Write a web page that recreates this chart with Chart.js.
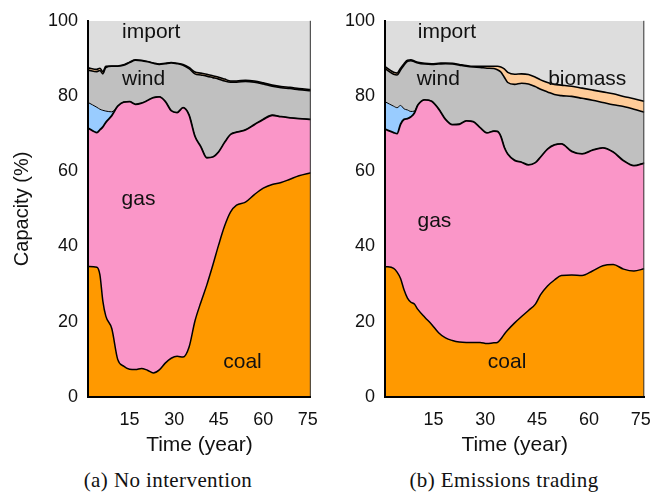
<!DOCTYPE html>
<html>
<head>
<meta charset="utf-8">
<script src="https://cdn.jsdelivr.net/npm/chart.js@4/dist/chart.umd.min.js"></script>
<style>
  body { margin: 0; background: #fff; }
  #wrap { position: relative; width: 663px; height: 495px; overflow: hidden; }
  canvas { position: absolute; top: 0; }
  .cap { position: absolute; top: 468px; font-family: "Liberation Serif", serif; font-size: 21px; letter-spacing: 0.4px; color: #111; white-space: nowrap; transform: translateX(-50%); }
</style>
</head>
<body>
<div id="wrap">
  <canvas id="chartA" width="330" height="460" style="left:0px"></canvas>
  <canvas id="chartB" width="333" height="460" style="left:330px"></canvas>
  <div class="cap" style="left:168px">(a) No intervention</div>
  <div class="cap" style="left:504px">(b) Emissions trading</div>
</div>
<script>
// DATOS: upper edge of each band, cumulative capacity (%)
const xTicks = [15, 30, 45, 60, 75]
const yTicks = [0, 20, 40, 60, 80, 100]

// (a) no intervention
const yearsA = [1, 4, 5, 6, 7, 9, 11, 13, 15, 17, 19, 21, 23, 25, 27, 29, 31, 33, 35, 37, 39, 41, 43, 45, 47, 49, 51, 54, 57, 60, 63, 66, 69, 72, 76]
const coalA = [34.7, 34.5, 32.5, 25.5, 21.5, 18.2, 10, 8.2, 7.4, 7.3, 7.6, 7.1, 6.4, 7.2, 9, 10.3, 10.8, 10.6, 13.2, 20.2, 25.2, 29.8, 35, 40.5, 45.5, 49.2, 51, 51.8, 53.8, 55.5, 56.5, 57, 57.9, 58.8, 59.6]
const gasA = [71.5, 70.3, 71, 71.8, 73, 74.8, 77.3, 78.4, 78.5, 77.8, 78.1, 78.8, 79.6, 79.8, 78.6, 76.1, 75.6, 76.9, 75, 69.3, 66.5, 63.6, 63.8, 65.2, 67.7, 69.8, 70.4, 71, 72.4, 73.8, 74.9, 74.5, 74.2, 74, 73.8]
const otherA = [78.3, 77, 76.5, 76.2, 76, 75.8, 77.3, 78.4, 78.5, 77.8, 78.1, 78.8, 79.6, 79.8, 78.6, 76.1, 75.6, 76.9, 75, 69.3, 66.5, 63.6, 63.8, 65.2, 67.7, 69.8, 70.4, 71, 72.4, 73.8, 74.9, 74.5, 74.2, 74, 73.8]
const windA = [86.9, 86.5, 86.8, 85.9, 87.6, 87.9, 87.9, 88.2, 88.9, 89.5, 89.4, 89.1, 88.7, 88.4, 88.6, 88.8, 88.6, 88.2, 87.3, 85.9, 85.6, 85.3, 84.9, 84.5, 84, 83.7, 83.7, 83.9, 83.7, 83.2, 82.6, 82.2, 82, 81.7, 81.4]
const biomassA = [87.5, 87.1, 87.4, 86.5, 87.9, 88, 88, 88.3, 89, 89.6, 89.5, 89.2, 88.8, 88.5, 88.7, 88.9, 88.7, 88.4, 87.6, 86.4, 86.1, 85.8, 85.4, 85, 84.5, 84, 84, 84.2, 84, 83.5, 82.9, 82.5, 82.3, 82, 81.7]

// (b) emissions trading
const yearsB = [1, 3.5, 4.5, 5.5, 6.5, 7.5, 8.5, 9.5, 10.5, 12.5, 14.5, 16.5, 18.5, 20.5, 22.5, 24.5, 26.5, 28.5, 30.5, 32.5, 33.5, 34.5, 35.5, 36.5, 38.5, 40.5, 42.5, 44.5, 46, 48, 50, 52, 55, 58, 61, 64, 67, 70, 73, 76]
const coalB = [34.7, 34.2, 33.2, 31.5, 28.5, 26.3, 25.2, 24.7, 23.3, 21.2, 19.3, 17.1, 15.7, 15, 14.6, 14.5, 14.5, 14.5, 14.2, 14.4, 14.5, 15.4, 16.7, 17.8, 19.7, 21.4, 23, 24.7, 27.2, 29.5, 31.1, 32.3, 32.4, 32.3, 33.5, 34.9, 35.2, 34, 33.5, 34.1]
const gasB = [71.2, 70.3, 70, 72.5, 73.8, 74, 74.5, 75.5, 77.6, 79, 78.6, 76.6, 73.8, 72.4, 72.5, 73.4, 73.2, 71.6, 70.2, 70.7, 70.6, 69.3, 66.4, 64.6, 62.9, 62.4, 61.7, 62.3, 63.8, 65.9, 67, 67.3, 65.3, 64.6, 65.6, 66.2, 65.1, 62.8, 61.5, 62.2]
const otherB = [78.5, 77.3, 76.9, 77.5, 76.6, 76.3, 75.9, 76, 77.6, 79, 78.6, 76.6, 73.8, 72.4, 72.5, 73.4, 73.2, 71.6, 70.2, 70.7, 70.6, 69.3, 66.4, 64.6, 62.9, 62.4, 61.7, 62.3, 63.8, 65.9, 67, 67.3, 65.3, 64.6, 65.6, 66.2, 65.1, 62.8, 61.5, 62.2]
const windB = [87.3, 85.8, 85.6, 86.9, 88.2, 89.2, 89.4, 89.1, 88.8, 88.5, 88.4, 88.5, 88.6, 88.5, 88.2, 87.9, 87.7, 87.6, 87.4, 87.3, 87, 86.4, 85, 83.6, 83.1, 83.4, 83.2, 82.5, 81.8, 81.1, 80.4, 80.1, 79.9, 79.4, 78.9, 78.3, 77.7, 77.2, 76.5, 75.7]
const biomassB = [87.8, 86.3, 86.1, 87.4, 88.6, 89.5, 89.6, 89.3, 89, 88.7, 88.6, 88.7, 88.8, 88.7, 88.4, 88.1, 87.9, 87.9, 87.9, 87.9, 87.9, 87.7, 87.2, 86.3, 85.8, 85.9, 85.7, 85, 84.3, 83.6, 83.1, 82.9, 82.6, 82.1, 81.6, 81.1, 80.6, 79.9, 79.3, 78.6]

const FONT = '"Liberation Sans", Arial, sans-serif'
const COLORS = { coal: '#FF9900', gas: '#FA96C8', other: '#99CCFF', wind: '#C0C0C0', biomass: '#FFCC99', import: '#DDDDDD' }

// FUNCIONES
function band(label, years, tops, color, fill, lineW) {
    return {
        label: label,
        data: years.map((x, i) => ({ x: x, y: tops[i] })),
        backgroundColor: color,
        borderColor: '#000',
        borderWidth: lineW,
        borderJoinStyle: 'round',
        pointRadius: 0,
        cubicInterpolationMode: 'monotone',
        fill: fill,
    }
}

// text inside the bands + thin right frame
const bandLabels = {
    id: 'bandLabels',
    afterDatasetsDraw(chart, args, opts) {
        const { ctx, chartArea, scales } = chart
        ctx.save()
        ctx.strokeStyle = '#333'
        ctx.lineWidth = 1
        ctx.beginPath()
        ctx.moveTo(chartArea.right - 0.5, chartArea.top)
        ctx.lineTo(chartArea.right - 0.5, chartArea.bottom)
        ctx.stroke()
        ctx.font = '21px ' + FONT
        ctx.fillStyle = '#111'
        ctx.textAlign = 'center'
        ctx.textBaseline = 'middle'
        opts.items.forEach(n => {
            ctx.fillText(n.text, scales.x.getPixelForValue(n.x), scales.y.getPixelForValue(n.y))
        })
        ctx.restore()
    }
}

function graficar(idCanvas, years, coal, gas, other, wind, biomass, yTitle, yWidth, padRight, notes) {
    const ctx = document.getElementById(idCanvas).getContext('2d')
    new Chart(ctx, {
        type: 'line',
        data: {
            datasets: [
                band('coal', years, coal, COLORS.coal, 'origin', 1.5),
                band('gas', years, gas, COLORS.gas, '-1', 1.8),
                band('other', years, other, COLORS.other, '-1', 1),
                band('wind', years, wind, COLORS.wind, '-1', 1.6),
                band('biomass', years, biomass, COLORS.biomass, '-1', 1.6),
                band('import', years, biomass, COLORS.import, 'end', 0),
            ],
        },
        options: {
            responsive: false,
            devicePixelRatio: 1,
            animation: false,
            layout: { padding: { top: 15, right: padRight, left: 0, bottom: 0 } },
            scales: {
                x: {
                    type: 'linear',
                    min: 1,
                    max: 76,
                    afterBuildTicks: s => { s.ticks = xTicks.map(v => ({ value: v })) },
                    afterFit: s => { s.height = 63 },
                    grid: { display: false, drawTicks: false },
                    border: { display: true, color: '#000', width: 2, z: 1 },
                    ticks: { color: '#111', font: { size: 18, family: FONT }, padding: 12, maxRotation: 0, autoSkip: false },
                    title: { display: true, text: 'Time (year)', color: '#111', font: { size: 21, family: FONT }, padding: { top: 0, bottom: 2 } },
                },
                y: {
                    min: 0,
                    max: 100,
                    afterBuildTicks: s => { s.ticks = yTicks.map(v => ({ value: v })) },
                    afterFit: s => { s.width = yWidth },
                    grid: { display: false, drawTicks: false },
                    border: { display: true, color: '#000', width: 2, z: 1 },
                    ticks: { color: '#111', font: { size: 18, family: FONT }, padding: 10 },
                    title: { display: !!yTitle, text: yTitle || '', color: '#111', font: { size: 20, family: FONT }, padding: { top: 10, bottom: 0 } },
                },
            },
            plugins: {
                legend: { display: false },
                tooltip: { enabled: false },
                bandLabels: { items: notes },
            },
        },
        plugins: [bandLabels],
    })
}

// EJECUCIÓN
graficar('chartA', yearsA, coalA, gasA, otherA, windA, biomassA, 'Capacity (%)', 88, 11, [
    { text: 'import', x: 22.3, y: 97.1 },
    { text: 'wind', x: 19.7, y: 84.6 },
    { text: 'gas', x: 18, y: 52.6 },
    { text: 'coal', x: 53, y: 9.2 },
])
graficar('chartB', yearsB, coalB, gasB, otherB, windB, biomassB, null, 55, 10, [
    { text: 'import', x: 18.9, y: 97.1 },
    { text: 'wind', x: 16.4, y: 84.6 },
    { text: 'biomass', x: 59.5, y: 84.6 },
    { text: 'gas', x: 15.3, y: 46.6 },
    { text: 'coal', x: 36.3, y: 9.2 },
])
</script>
</body>
</html>
